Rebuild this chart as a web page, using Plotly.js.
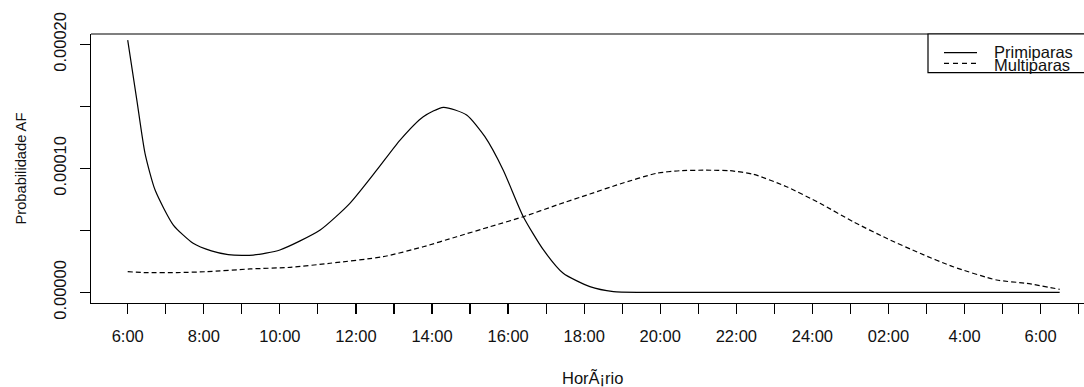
<!DOCTYPE html>
<html>
<head>
<meta charset="utf-8">
<script src="https://cdn.plot.ly/plotly-3.0.1.min.js"></script>
<style>html,body{margin:0;padding:0;background:#fff;}#chart{width:1084px;height:387px;}</style>
</head>
<body>
<div id="chart"></div>
<script>
// Hours elapsed since 6:00
const hoursPrimiparas = [0, 0.24, 0.455, 0.72, 1.2, 1.72, 2.2, 2.64, 3.0, 3.3, 4.0, 5.06, 5.84, 6.55, 7.16, 7.77, 8.3, 8.91, 9.39, 9.87, 10.4, 10.93, 11.45, 12.15, 12.77, 13.5, 15, 18, 21, 24.5];
const valuesPrimiparas = [0.0002034, 0.000155, 0.0001121, 0.0000825, 0.0000543, 0.0000396, 0.0000335, 0.0000305, 0.0000298, 0.0000301, 0.0000342, 0.0000503, 0.0000718, 0.0000987, 0.0001228, 0.0001416, 0.0001492, 0.000143, 0.0001255, 0.0000987, 0.000061, 0.0000342, 0.0000154, 0.0000046, 0.0000006, 0.0, 0.0, 0.0, 0.0, 0.0];

const hoursMultiparas = [0, 0.5, 1.3, 2.08, 3.22, 4.27, 5.32, 6.72, 7.77, 8.65, 9.53, 10.4, 11.28, 12.15, 12.94, 13.9, 14.52, 15.2, 15.83, 16.45, 17.32, 18.2, 19.07, 19.95, 20.83, 21.7, 22.84, 23.63, 24.5];
const valuesMultiparas = [0.0000167, 0.0000159, 0.0000160, 0.0000167, 0.0000189, 0.0000202, 0.0000235, 0.0000288, 0.0000368, 0.0000449, 0.000053, 0.000061, 0.0000704, 0.0000793, 0.0000874, 0.000096, 0.0000981, 0.0000985, 0.0000981, 0.0000952, 0.0000852, 0.0000718, 0.000057, 0.0000436, 0.0000315, 0.0000207, 0.00001, 0.0000073, 0.0000025];

const tickHours = [0,1,2,3,4,5,6,7,8,9,10,11,12,13,14,15,16,17,18,19,20,21,22,23,24,25];
const tickLabels = ["6:00","","8:00","","10:00","","12:00","","14:00","","16:00","","18:00","","20:00","","22:00","","24:00","","02:00","","4:00","","6:00",""];

const yTickVals = [0, 0.00005, 0.0001, 0.00015, 0.0002];
const yTickText = ["0.00000", "", "0.00010", "", "0.00020"];

const seriesNames = ["Primiparas", "Multiparas"];
const xTitle = "Hor\u00C3\u00A1rio";
const yTitle = "Probabilidade AF";

const W = 1084, H = 387;
const L = 91, R = 0, T = 34, B = 84;
const PW = W - L - R, PH = H - T - B;
const px = x => (x - L) / PW;
const py = y => (H - B - y) / PH;

const FONT = "Liberation Sans, Arial, sans-serif";
const TXT = "#111";

const traces = [
  {x: hoursPrimiparas, y: valuesPrimiparas, type: "scatter", mode: "lines", name: seriesNames[0],
   line: {color: "#000", width: 1.2, shape: "spline", smoothing: 0.6}, showlegend: false, hoverinfo: "skip"},
  {x: hoursMultiparas, y: valuesMultiparas, type: "scatter", mode: "lines", name: seriesNames[1],
   line: {color: "#000", width: 1.2, dash: "5px,3px", shape: "spline", smoothing: 0.6}, showlegend: false, hoverinfo: "skip"}
];

const layout = {
  width: W, height: H,
  margin: {l: L, r: R, t: T, b: B, pad: 0},
  paper_bgcolor: "#fff", plot_bgcolor: "#fff",
  font: {family: FONT, size: 16.5, color: TXT},
  showlegend: false,
  xaxis: {
    range: [-0.965, 25.14], tickmode: "array", tickvals: tickHours, ticktext: tickLabels,
    showgrid: false, zeroline: false, showline: true, linecolor: "#000", linewidth: 1.2,
    ticks: "outside", ticklen: 10, tickwidth: 1.2, tickcolor: "#000",
    tickfont: {family: FONT, size: 16.5, color: TXT}, ticklabelstandoff: 8
  },
  yaxis: {
    range: [-0.00000855, 0.0002083], tickmode: "array", tickvals: yTickVals, ticktext: yTickText,
    showgrid: false, zeroline: false, showline: true, linecolor: "#000", linewidth: 1.2,
    ticks: "outside", ticklen: 10, tickwidth: 1.2, tickcolor: "#000", tickangle: -90,
    tickfont: {family: FONT, size: 16.5, color: TXT}, ticklabelstandoff: 7
  },
  shapes: [
    {type: "line", xref: "paper", yref: "paper", x0: 0, x1: 1.02, y0: 1, y1: 1, line: {color: "#000", width: 1.2}},
    {type: "rect", xref: "paper", yref: "paper", x0: px(928), x1: 1.05, y0: py(72.7), y1: 1, line: {color: "#000", width: 1.2}, fillcolor: "#fff", layer: "above"},
    {type: "line", xref: "paper", yref: "paper", x0: px(944), x1: px(977), y0: py(52.7), y1: py(52.7), line: {color: "#000", width: 1.2}},
    {type: "line", xref: "paper", yref: "paper", x0: px(944), x1: px(977), y0: py(63.3), y1: py(63.3), line: {color: "#000", width: 1.2, dash: "5px,4px"}}
  ],
  annotations: [
    {xref: "paper", yref: "paper", x: px(992), y: py(51.5), xanchor: "left", yanchor: "middle", showarrow: false,
     text: seriesNames[0], font: {family: FONT, size: 16.5, color: TXT}},
    {xref: "paper", yref: "paper", x: px(992), y: py(65.2), xanchor: "left", yanchor: "middle", showarrow: false,
     text: seriesNames[1], font: {family: FONT, size: 16.5, color: TXT}},
    {xref: "paper", yref: "paper", x: px(592), y: py(377), xanchor: "center", yanchor: "middle", showarrow: false,
     text: xTitle, font: {family: FONT, size: 16.5, color: TXT}},
    {xref: "paper", yref: "paper", x: px(20), y: py(168.5), xanchor: "center", yanchor: "middle", showarrow: false,
     textangle: -90, text: yTitle, font: {family: FONT, size: 14.7, color: TXT}}
  ]
};

Plotly.newPlot("chart", traces, layout, {staticPlot: true, displayModeBar: false});
</script>
</body>
</html>
